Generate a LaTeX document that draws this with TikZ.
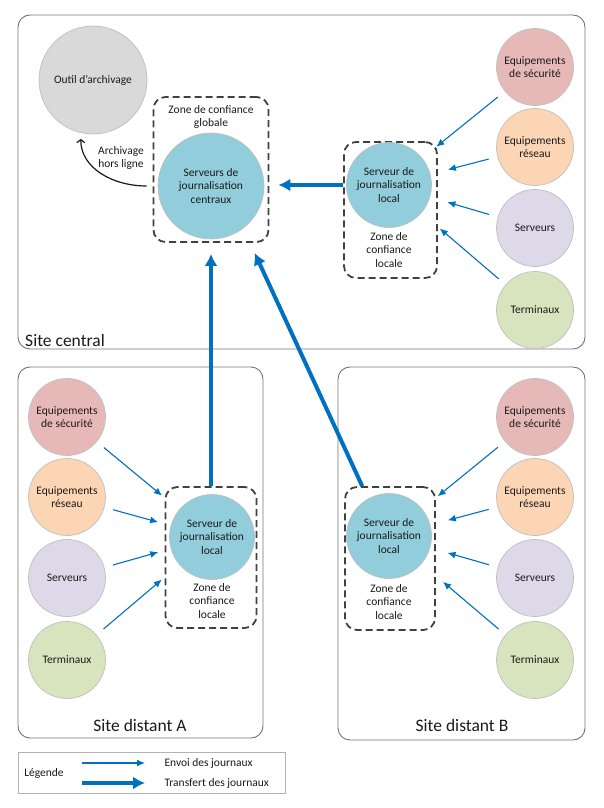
\documentclass[tikz,border=0pt]{standalone}
\usepackage{fontspec}
\setmainfont{Carlito}
\usetikzlibrary{arrows.meta}
\definecolor{txt}{HTML}{1A1A1A}
\definecolor{logblue}{HTML}{0070C0}
\definecolor{secu}{HTML}{E6B9B8}
\definecolor{reseau}{HTML}{FCD5B5}
\definecolor{serv}{HTML}{DDD9E8}
\definecolor{term}{HTML}{D7E4BD}
\definecolor{srvblue}{HTML}{92CDDC}
\definecolor{archgray}{HTML}{D9D9D9}
\tikzstyle{graph}=[x=1pt, y=-1pt, text=txt, font=\fontsize{11.5}{13.5}\selectfont]
\tikzstyle{site}=[rectangle, rounded corners=12pt, draw=black!55, line width=0.9pt]
\tikzstyle{siteLabel}=[font=\fontsize{17.5}{20}\selectfont]
\tikzstyle{zone}=[rectangle, rounded corners=12pt, draw=black!75, line width=1.8pt, dash pattern=on 7pt off 4pt]
\tikzstyle{zoneLabel}=[align=center]
\tikzstyle{src}=[circle, draw=black!25, line width=0.7pt, minimum size=77pt, inner sep=0pt, align=center]
\tikzstyle{srv}=[src, fill=srvblue, minimum size=85pt]
\tikzstyle{legend}=[rectangle, draw=black!30, line width=0.8pt]
\tikzstyle{edge}=[-{Latex[length=8pt,width=7pt]}, draw=logblue, line width=1.1pt, shorten <=9pt, shorten >=18pt]
\tikzstyle{transfer}=[-{Latex[length=12pt,width=13pt]}, draw=logblue, line width=4pt]
\tikzstyle{offline}=[-{Straight Barb[length=3pt,width=8pt]}, draw=txt, line width=1.2pt]

\begin{document}
\begin{tikzpicture}[graph]
	\useasboundingbox (0,0) rectangle (604,808);
	% sites
	\draw (301.5,182) node[site, minimum width=567pt, minimum height=334pt] (central) {};
	\draw (140.5,552.5) node[site, minimum width=245pt, minimum height=371pt] (siteA) {};
	\draw (461.5,553.5) node[site, minimum width=247pt, minimum height=373pt] (siteB) {};
	\draw (65,340) node[siteLabel] {Site central};
	\draw (140,725) node[siteLabel] {Site distant A};
	\draw (462,725) node[siteLabel] {Site distant B};
	%
	\draw (93,80) node[src, fill=archgray, minimum size=108pt] (arch) {Outil d'archivage};
	\draw (211,169.5) node[zone, minimum width=115pt, minimum height=145pt] (zg) {};
	\draw (211,117) node[zoneLabel] {Zone de confiance\\globale};
	\draw (211,186) node[srv, minimum size=106pt] (c) {Serveurs de\\journalisation\\centraux};
	\draw (121,158) node[zoneLabel] {Archivage\\hors ligne};
	\draw[offline] (zg.west |- c) .. controls +(-40,0) and +(0,35) .. (arch.257) [shorten <=6pt, shorten >=6pt];
	%
	\draw (390.5,210) node[zone, minimum width=93pt, minimum height=136pt] (z1) {};
	\draw (389,185) node[srv] (s1) {Serveur de\\journalisation\\local};
	\draw (389,250) node[zoneLabel] {Zone de\\confiance\\locale};
	\draw (535,67) node[src, fill=secu] (q1) {Equipements\\de sécurité};
	\draw (535,147) node[src, fill=reseau] (q2) {Equipements\\réseau};
	\draw (535,228) node[src, fill=serv] (q3) {Serveurs};
	\draw (535,310) node[src, fill=term] (q4) {Terminaux};
	
	\draw[edge] (q1) -- (s1);
	\draw[edge] (q2) -- (s1);
	\draw[edge] (q3) -- (s1);
	\draw[edge, shorten >=24pt] (q4) -- (s1);
	%
	\draw (211,557.5) node[zone, minimum width=91pt, minimum height=141pt] (zA) {};
	\draw (212,537) node[srv] (sA) {Serveur de\\journalisation\\local};
	\draw (212,601) node[zoneLabel] {Zone de\\confiance\\locale};
	\draw (67,417) node[src, fill=secu] (a1) {Equipements\\de sécurité};
	\draw (67,497) node[src, fill=reseau] (a2) {Equipements\\réseau};
	\draw (67,578) node[src, fill=serv] (a3) {Serveurs};
	\draw (67,660) node[src, fill=term] (a4) {Terminaux};
	
	\draw[edge, shorten >=22pt] (a1) -- (sA);
	\draw[edge, shorten >=13pt] (a2) -- (sA);
	\draw[edge, shorten >=13pt] (a3) -- (sA);
	\draw[edge, shorten >=23pt] (a4) -- (sA);
	%
	\draw (390,558.5) node[zone, minimum width=90pt, minimum height=143pt] (zB) {};
	\draw (389,536) node[srv] (sB) {Serveur de\\journalisation\\local};
	\draw (389,602) node[zoneLabel] {Zone de\\confiance\\locale};
	\draw (535,417) node[src, fill=secu] (b1) {Equipements\\de sécurité};
	\draw (535,497) node[src, fill=reseau] (b2) {Equipements\\réseau};
	\draw (535,578) node[src, fill=serv] (b3) {Serveurs};
	\draw (535,660) node[src, fill=term] (b4) {Terminaux};
	
	\draw[edge, shorten >=20pt] (b1) -- (sB);
	\draw[edge] (b2) -- (sB);
	\draw[edge] (b3) -- (sB);
	\draw[edge, shorten >=28pt] (b4) -- (sB);
	%
	\draw[transfer, shorten >=9pt] (z1.west |- s1) -- (zg.east |- s1);
	\draw[transfer, shorten >=11pt] (zA.north) -- (zg.south);
	\draw[transfer, shorten >=11pt] (zB.111) -- (zg.298);
	% legende
	\draw (151.5,772.5) node[legend, minimum width=267pt, minimum height=41pt] (leg) {};
	\draw (44,773) node (legt) {Légende};
	\coordinate (e1) at (82,763);
	\coordinate (e2) at (145,763);
	\coordinate (f1) at (82,783);
	\coordinate (f2) at (145,783);
	\draw[edge, shorten <=0pt, shorten >=0pt] (e1) -- (e2);
	\draw[transfer] (f1) -- (f2);
	\draw (161,763) node[anchor=west] {Envoi des journaux};
	\draw (161,783) node[anchor=west] {Transfert des journaux};
\end{tikzpicture}
\end{document}
